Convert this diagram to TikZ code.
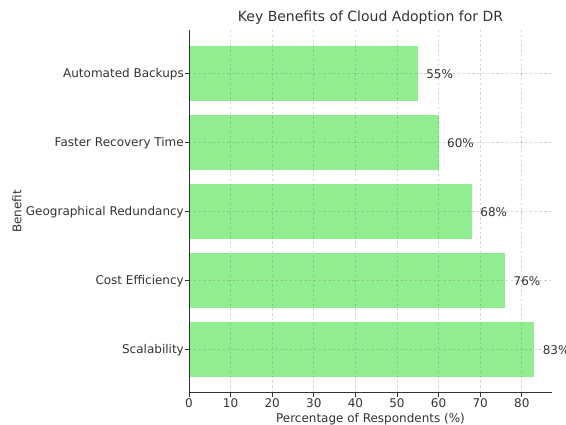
\documentclass[tikz,border=0pt]{standalone}
\usepackage{fontspec}
\setmainfont{DejaVu Sans}
\usetikzlibrary{positioning}

\definecolor{barfill}{HTML}{90EE90}
\definecolor{inkgray}{HTML}{333333}

\begin{document}
\begin{tikzpicture} [x=1pt, y=-1pt,
  bar/.style = {fill=barfill, draw=none},
  gridline/.style = {draw=gray, line width=0.7pt, dash pattern=on 2.4pt off 2.4pt, opacity=0.35},
  spine/.style = {draw=inkgray, line width=1pt},
  ticklab/.style = {text=inkgray, font=\fontsize{12}{14}\selectfont, inner sep=0pt},
  vallab/.style = {text=inkgray, font=\fontsize{12}{14}\selectfont, inner sep=0pt, anchor=west}]
\useasboundingbox (0,0) rectangle (566,425);
\clip (0,0) rectangle (566,425);
% bars (value v ends at 189 + 4.16 v)
\fill[bar] (189,45.9) rectangle (417.8,101.1);
\fill[bar] (189,114.9) rectangle (438.6,170.1);
\fill[bar] (189,183.9) rectangle (471.9,239.1);
\fill[bar] (189,252.9) rectangle (505.2,308.1);
\fill[bar] (189,321.9) rectangle (534.3,377.1);
% grid
\foreach \v in {0,10,...,80}
  \draw[gridline] (189+4.16*\v,30) -- (189+4.16*\v,393);
\foreach \c in {73.5,142.5,211.5,280.5,349.5}
  \draw[gridline] (189,\c) -- (552,\c);
% axes
\coordinate (o) at (189,393);
\coordinate (ytop) at (189,30);
\coordinate (xend) at (552,393);
\draw[spine] (ytop) -- (o) -- (xend);
% x ticks
\foreach \v in {0,10,...,80} {
  \draw[spine] (189+4.16*\v,393) -- (189+4.16*\v,397.5);
  \node[ticklab] (xt\v) at (189+4.16*\v,403) {\v};
}
% y ticks and category names
\foreach \c/\name/\lab in {73.5/auto/Automated Backups, 142.5/fast/Faster Recovery Time,
    211.5/geo/Geographical Redundancy, 280.5/cost/Cost Efficiency, 349.5/scal/Scalability} {
  \draw[spine] (184.5,\c) -- (189,\c);
  \node[ticklab, anchor=east] (y\name) at (184,\c+1) {\lab};
}
% values
\node[vallab] (v55) at (189+4.16*57,74) {55\%};
\node[vallab] (v60) at (189+4.16*62,143) {60\%};
\node[vallab] (v68) at (189+4.16*70,212) {68\%};
\node[vallab] (v76) at (189+4.16*78,281) {76\%};
\node[vallab] (v83) at (189+4.16*85,350) {83\%};
% labels
\node[ticklab, font=\fontsize{14}{16}\selectfont] (title) at (370.5,18) {Key Benefits of Cloud Adoption for DR};
\node[ticklab] (xlabel) at (370.5,419) {Percentage of Respondents (\%)};
\node[ticklab, rotate=90] (ylabel) at (17,211.5) {Benefit};
\end{tikzpicture}
\end{document}
